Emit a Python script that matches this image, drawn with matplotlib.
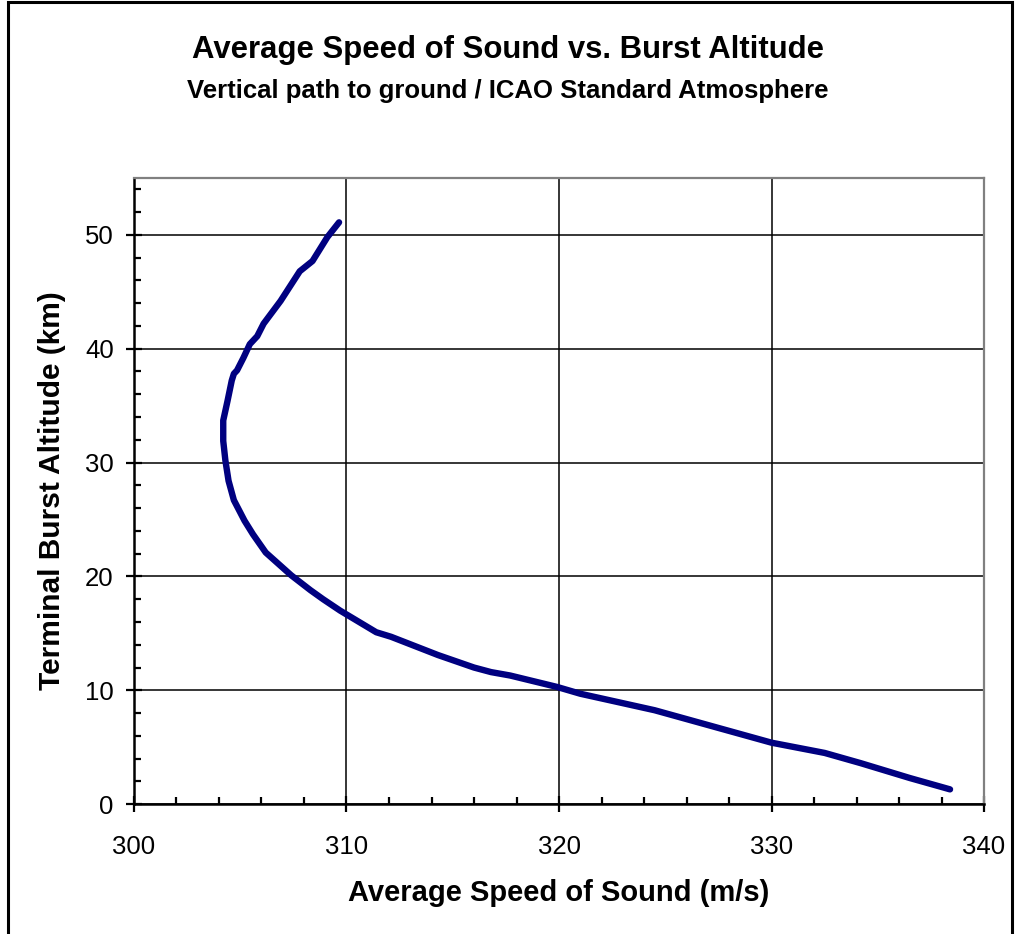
import matplotlib
matplotlib.use("Agg")
import matplotlib.pyplot as plt
from matplotlib.patches import Rectangle
from matplotlib.ticker import MultipleLocator

plt.rcParams['font.family'] = ['Liberation Sans', 'DejaVu Sans']

# Burst altitude (km) and average speed of sound to ground (m/s)
altitude_km = [1.3, 2.3, 3.6, 4.5, 5.4, 8.25, 9.7, 10.3, 10.8, 11.3, 11.6, 12.0,
               13.1, 14.7, 15.1, 17.0, 18.0, 18.8, 20.1, 22.1, 23.7, 24.9, 26.7,
               28.4, 30.2, 31.9, 33.7, 35.4, 37.2, 37.8, 38.1, 39.2, 40.4, 41.1,
               42.2, 44.2, 46.8, 47.7, 49.8, 51.1]
speed_ms = [338.4, 336.5, 334.2, 332.5, 330.0, 324.5, 321.0, 319.9, 318.8, 317.7,
            316.8, 316.0, 314.3, 312.1, 311.4, 309.7, 308.9, 308.3, 307.4, 306.2,
            305.6, 305.2, 304.7, 304.45, 304.3, 304.2, 304.2, 304.4, 304.6, 304.7,
            304.85, 305.15, 305.45, 305.8, 306.1, 306.9, 307.8, 308.4, 309.1, 309.65]

fig = plt.figure(figsize=(10.15, 9.34), dpi=100)
ax = fig.add_axes([0.132, 0.139, 0.8375, 0.6705])

ax.plot(speed_ms, altitude_km, color='#000080', linewidth=4.6,
        solid_capstyle='round', solid_joinstyle='round', zorder=3)

ax.set_xlim(300, 340)
ax.set_ylim(0, 55)
ax.xaxis.set_major_locator(MultipleLocator(10))
ax.xaxis.set_minor_locator(MultipleLocator(2))
ax.yaxis.set_major_locator(MultipleLocator(10))
ax.yaxis.set_minor_locator(MultipleLocator(2))

ax.grid(True, which='major', color='black', linewidth=1.1)
ax.set_axisbelow(True)

ax.tick_params(which='major', direction='inout', length=11, width=1.6,
               labelsize=18.5, colors='black')
ax.tick_params(which='minor', direction='in', length=5, width=1.6)
ax.tick_params(axis='x', which='major', pad=16.5)
ax.tick_params(axis='y', which='major', pad=9)

for side in ['left', 'bottom']:
    ax.spines[side].set_linewidth(1.8)
    ax.spines[side].set_color('black')
for side in ['top', 'right']:
    ax.spines[side].set_linewidth(1.6)
    ax.spines[side].set_color('#808080')

ax.set_xlabel("Average Speed of Sound (m/s)", fontsize=21, fontweight='bold')
ax.set_ylabel("Terminal Burst Altitude (km)", fontsize=21.5, fontweight='bold')
ax.xaxis.set_label_coords(0.5, -0.12)
ax.yaxis.set_label_coords(-0.08, 0.5)

fig.text(0.5, 0.946, "Average Speed of Sound vs. Burst Altitude",
         ha='center', va='center', fontsize=22.4, fontweight='bold')
fig.text(0.5, 0.903, "Vertical path to ground / ICAO Standard Atmosphere",
         ha='center', va='center', fontsize=18.5, fontweight='bold')

# outer chart frame
fig.patches.append(Rectangle((0.008, -0.1), 0.989, 1.098, transform=fig.transFigure,
                             fill=False, edgecolor='black', linewidth=2.2))

fig.savefig("out.png", dpi=100)
